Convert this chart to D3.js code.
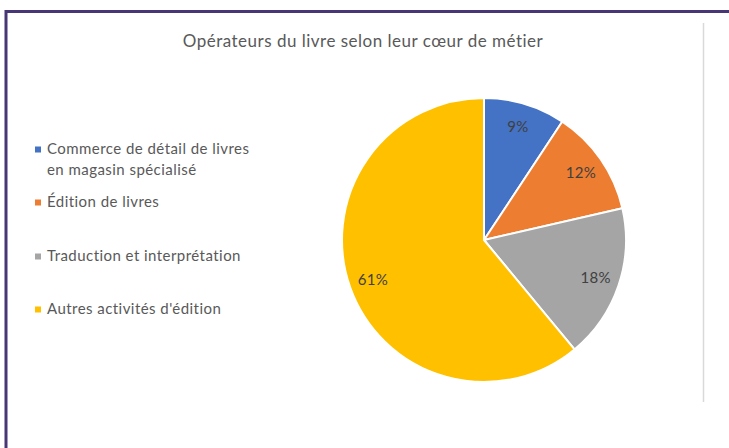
<!DOCTYPE html>
<html>
<head>
<meta charset="utf-8">
<script src="https://cdn.jsdelivr.net/npm/d3@7"></script>
<style>
  html, body { margin: 0; padding: 0; background: #ffffff; }
  svg { display: block; }
</style>
</head>
<body>
<svg id="chart" width="729" height="448"></svg>
<script>
const title = "Opérateurs du livre selon leur cœur de métier";
const categories = [
  "Commerce de détail de livres en magasin spécialisé",
  "Édition de livres",
  "Traduction et interprétation",
  "Autres activités d'édition"
];
const legendLines = [
  ["Commerce de détail de livres", "en magasin spécialisé"],
  ["Édition de livres"],
  ["Traduction et interprétation"],
  ["Autres activités d'édition"]
];
const values = [9.3, 12.1, 17.6, 61.0];
const colors = ["#4472C4", "#ED7D31", "#A5A5A5", "#FFC000"];

const svg = d3.select("#chart");
const W = 729, H = 448;
const FONT = "Lato, 'Open Sans', sans-serif";

// frame (purple border, continues past right and bottom edges)
svg.append("rect")
  .attr("x", 6).attr("y", 11.5)
  .attr("width", W + 20).attr("height", H + 20)
  .attr("fill", "none")
  .attr("stroke", "#483777")
  .attr("stroke-width", 3);

// light vertical separator on the right
svg.append("line")
  .attr("x1", 703.5).attr("x2", 703.5)
  .attr("y1", 23).attr("y2", 402)
  .attr("stroke", "#d9d9d9")
  .attr("stroke-width", 1.5);

// title
svg.append("text")
  .attr("x", 363).attr("y", 46.5)
  .attr("text-anchor", "middle")
  .attr("font-family", FONT)
  .attr("font-size", 17)
  .attr("letter-spacing", 0.5)
  .attr("fill", "#595959")
  .text(title);

// pie
const cx = 484, cy = 240, R = 142;
const total = d3.sum(values);
const pie = d3.pie().sort(null).value(d => d)(values);
const arc = d3.arc().innerRadius(0).outerRadius(R);
const labelArc = d3.arc().innerRadius(118).outerRadius(118);

const g = svg.append("g").attr("transform", `translate(${cx},${cy})`);
g.selectAll("path.slice")
  .data(pie)
  .join("path")
  .attr("class", "slice")
  .attr("d", arc)
  .attr("fill", (d, i) => colors[i])
  .attr("stroke", "#ffffff")
  .attr("stroke-width", 2)
  .attr("stroke-linejoin", "round");

g.selectAll("text.lbl")
  .data(pie)
  .join("text")
  .attr("class", "lbl")
  .attr("transform", d => `translate(${labelArc.centroid(d)})`)
  .attr("text-anchor", "middle")
  .attr("dy", "0.35em")
  .attr("font-family", FONT)
  .attr("font-size", 15)
  .attr("letter-spacing", 0.3)
  .attr("fill", "#404040")
  .text(d => Math.round(d.data / total * 100) + "%");

// legend
const legendBase = [154, 207, 261, 314];
const lg = svg.append("g");
categories.forEach((c, i) => {
  lg.append("rect")
    .attr("x", 35).attr("y", legendBase[i] - 7.5)
    .attr("width", 6).attr("height", 6)
    .attr("fill", colors[i]);
  legendLines[i].forEach((line, j) => {
    lg.append("text")
      .attr("x", 47).attr("y", legendBase[i] + j * 21)
      .attr("font-family", FONT)
      .attr("font-size", 15)
      .attr("letter-spacing", 0.45)
      .attr("fill", "#595959")
      .text(line);
  });
});
</script>
</body>
</html>
